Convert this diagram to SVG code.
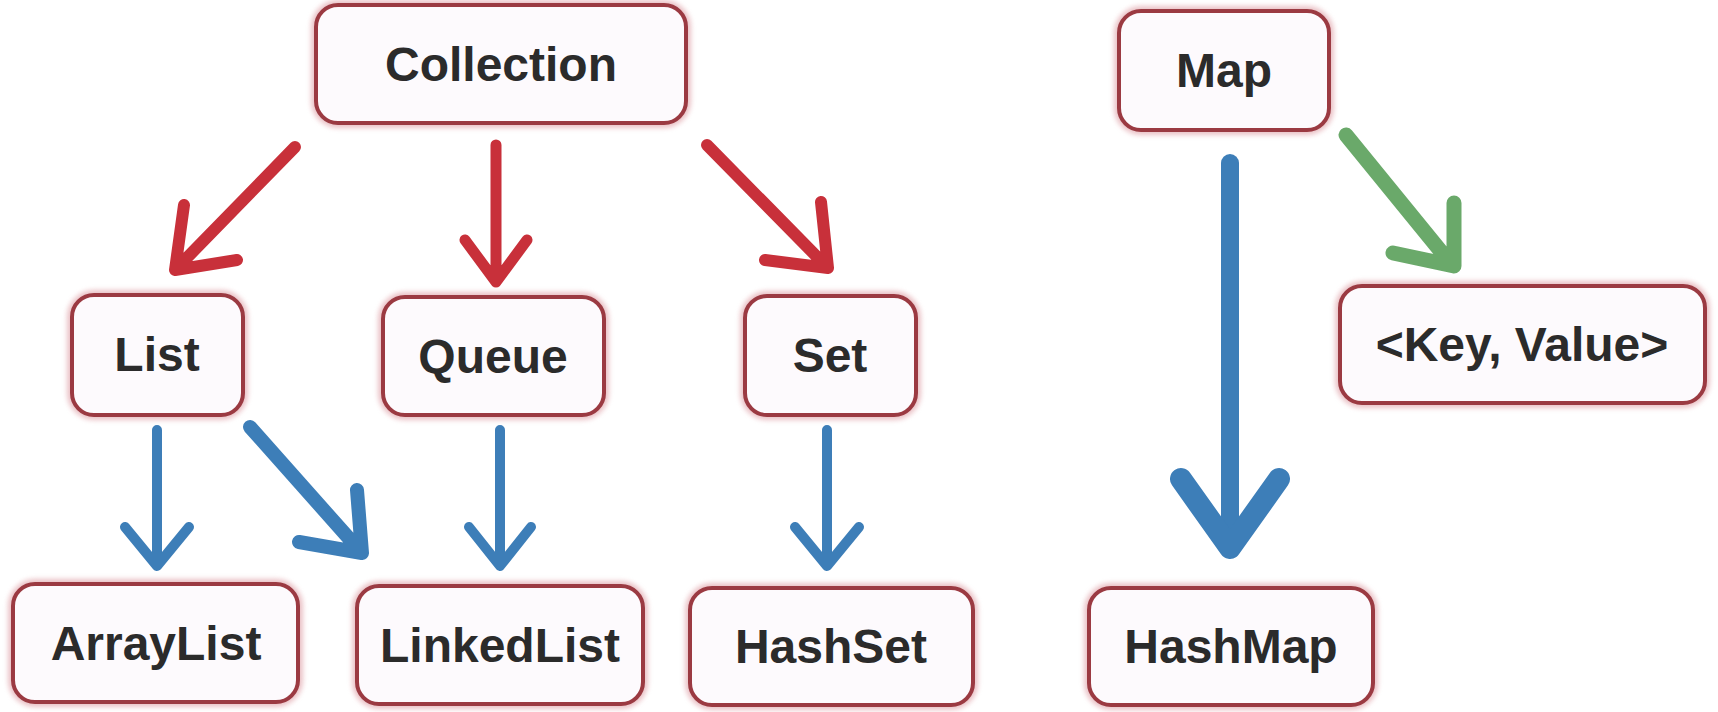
<svg xmlns="http://www.w3.org/2000/svg" width="1718" height="712" viewBox="0 0 1718 712">
<defs>
<filter id="glow" x="-10%" y="-10%" width="120%" height="120%">
<feGaussianBlur stdDeviation="2.5"/>
</filter>
<style>
.halo{fill:none;stroke:#d98f97;stroke-width:10;opacity:0.55;filter:url(#glow)}
.box{fill:#fdfafd;stroke:#9b3a42;stroke-width:4}
.lbl{font-family:"Liberation Sans",Arial,sans-serif;font-weight:bold;font-size:48px;fill:#2b2b2b;text-anchor:middle}
.arr{fill:none;stroke-linecap:round;stroke-linejoin:round}
.red{stroke:#c8303a}
.blue{stroke:#3d7eb8}
.green{stroke:#6aa96a}
</style>
</defs>
<rect width="1718" height="712" fill="#ffffff"/>
<g id="connectors">
<path class="arr red" stroke-width="12" d="M295,147 L175,270 M184,205 L175,270 L237,260"/>
<path class="arr red" stroke-width="11" d="M496,145 L496,282 M465,240 L496,282 L527,240"/>
<path class="arr red" stroke-width="12" d="M707,145 L828,268 M821,202 L828,268 L765,260"/>
<path class="arr blue" stroke-width="10" d="M157,430 L157,566 M125,527 L157,566 L189,527"/>
<path class="arr blue" stroke-width="14" d="M250,427 L362,553 M357,490 L362,553 L299,542"/>
<path class="arr blue" stroke-width="10" d="M500,430 L500,566 M469,527 L500,566 L531,527"/>
<path class="arr blue" stroke-width="10" d="M827,430 L827,566 M795,527 L827,566 L859,527"/>
<path class="arr blue" stroke-width="18" d="M1230,163 L1230,548"/>
<path class="arr blue" stroke-width="22" d="M1181,479 L1230,548 L1279,479"/>
<path class="arr green" stroke-width="15" d="M1346,135 L1452,265 M1454,203 L1454,266 L1393,253"/>
</g>
<g id="collection">
<rect class="halo" x="316" y="5" width="370" height="118" rx="22"/>
<rect class="box" x="316" y="5" width="370" height="118" rx="22"/>
<text class="lbl" x="501" y="81">Collection</text>
</g>
<g id="list">
<rect class="halo" x="72" y="295" width="171" height="120" rx="22"/>
<rect class="box" x="72" y="295" width="171" height="120" rx="22"/>
<text class="lbl" x="157" y="371">List</text>
</g>
<g id="queue">
<rect class="halo" x="383" y="297" width="221" height="118" rx="22"/>
<rect class="box" x="383" y="297" width="221" height="118" rx="22"/>
<text class="lbl" x="493" y="373">Queue</text>
</g>
<g id="set">
<rect class="halo" x="745" y="296" width="171" height="119" rx="22"/>
<rect class="box" x="745" y="296" width="171" height="119" rx="22"/>
<text class="lbl" x="830" y="372">Set</text>
</g>
<g id="arraylist">
<rect class="halo" x="13" y="584" width="285" height="118" rx="22"/>
<rect class="box" x="13" y="584" width="285" height="118" rx="22"/>
<text class="lbl" x="156" y="660">ArrayList</text>
</g>
<g id="linkedlist">
<rect class="halo" x="357" y="586" width="286" height="118" rx="22"/>
<rect class="box" x="357" y="586" width="286" height="118" rx="22"/>
<text class="lbl" x="500" y="662">LinkedList</text>
</g>
<g id="hashset">
<rect class="halo" x="690" y="588" width="283" height="117" rx="22"/>
<rect class="box" x="690" y="588" width="283" height="117" rx="22"/>
<text class="lbl" x="831" y="663">HashSet</text>
</g>
<g id="map">
<rect class="halo" x="1119" y="11" width="210" height="119" rx="22"/>
<rect class="box" x="1119" y="11" width="210" height="119" rx="22"/>
<text class="lbl" x="1224" y="87">Map</text>
</g>
<g id="keyvalue">
<rect class="halo" x="1340" y="286" width="365" height="117" rx="22"/>
<rect class="box" x="1340" y="286" width="365" height="117" rx="22"/>
<text class="lbl" x="1522" y="361">&lt;Key, Value&gt;</text>
</g>
<g id="hashmap">
<rect class="halo" x="1089" y="588" width="284" height="117" rx="22"/>
<rect class="box" x="1089" y="588" width="284" height="117" rx="22"/>
<text class="lbl" x="1231" y="663">HashMap</text>
</g>
</svg>
